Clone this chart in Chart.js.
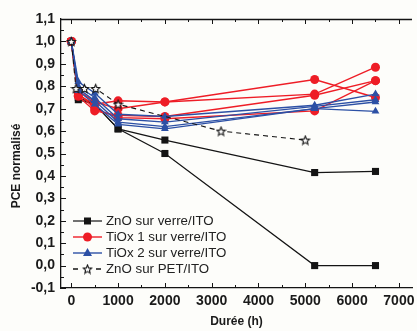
<!DOCTYPE html>
<html>
<head>
<meta charset="utf-8">
<script src="https://cdn.jsdelivr.net/npm/chart.js@4.4.0/dist/chart.umd.min.js"></script>
<style>
  html, body { margin: 0; padding: 0; background: #fdfdfa; }
  #wrap { width: 417px; height: 331px; position: relative; }
</style>
</head>
<body>
<div id="wrap"><canvas id="pceChart"></canvas></div>
<script>
// durée (h) des mesures
const hours = [0, 150, 500, 1000, 2000, 5200, 6500];
const petHours = [0, 100, 280, 520, 1000, 3200, 5000];

// PCE normalisé
const znoVerre1 = [1.0, 0.74, 0.72, 0.61, 0.56, 0.415, 0.42];
const znoVerre2 = [1.0, 0.75, 0.72, 0.61, 0.50, 0.0, 0.0];
const tiox1a = [1.0, 0.76, 0.72, 0.735, 0.73, 0.83, 0.75];
const tiox1b = [1.0, 0.78, 0.73, 0.70, 0.73, 0.765, 0.885];
const tiox1c = [1.0, 0.755, 0.69, 0.67, 0.665, 0.76, 0.825];
const tiox1d = [1.0, 0.77, 0.70, 0.66, 0.655, 0.69, 0.825];
const tiox2a = [1.0, 0.82, 0.77, 0.675, 0.665, 0.715, 0.765];
const tiox2b = [1.0, 0.80, 0.75, 0.655, 0.64, 0.71, 0.74];
const tiox2c = [1.0, 0.79, 0.735, 0.64, 0.62, 0.70, 0.73];
const tiox2d = [1.0, 0.78, 0.72, 0.63, 0.61, 0.70, 0.688];
const znoPet = [1.0, 0.79, 0.79, 0.79, 0.72, 0.60, 0.56];

const xTicks = [0, 1000, 2000, 3000, 4000, 5000, 6000, 7000];
const yTicks = [-0.1, 0.0, 0.1, 0.2, 0.3, 0.4, 0.5, 0.6, 0.7, 0.8, 0.9, 1.0, 1.1];

const legendNames = ['ZnO sur verre/ITO', 'TiOx 1 sur verre/ITO', 'TiOx 2 sur verre/ITO', 'ZnO sur PET/ITO'];

const BLACK = '#141414';
const RED = '#ee1d26';
const BLUE = '#2c50a5';

function starImage(size) {
  const c = document.createElement('canvas');
  c.width = size; c.height = size;
  const g = c.getContext('2d');
  const cx = size / 2, cy = size / 2 + 0.5, R = size / 2 - 1, r = R * 0.45;
  g.beginPath();
  for (let i = 0; i < 10; i++) {
    const a = -Math.PI / 2 + i * Math.PI / 5;
    const rr = i % 2 ? r : R;
    g.lineTo(cx + rr * Math.cos(a), cy + rr * Math.sin(a));
  }
  g.closePath();
  g.fillStyle = '#fff';
  g.fill();
  g.strokeStyle = BLACK;
  g.lineWidth = 1.1;
  g.stroke();
  return c;
}
const star = starImage(11);

function pts(xs, ys) {
  return xs.map((x, i) => ({ x: x, y: ys[i] }));
}

function series(label, ys, color, style, order, xs) {
  return {
    label: label,
    data: pts(xs || hours, ys),
    borderColor: color,
    backgroundColor: color,
    borderWidth: color === BLACK ? 1.2 : 1.4,
    pointStyle: style,
    pointRadius: style === 'rect' ? 5 : 4.5,
    pointBorderWidth: 0,
    tension: 0,
    order: order
  };
}

const datasets = [
  series(legendNames[0], znoVerre1, BLACK, 'rect', 3),
  series(legendNames[0], znoVerre2, BLACK, 'rect', 3),
  series(legendNames[1], tiox1a, RED, 'circle', 2),
  series(legendNames[1], tiox1b, RED, 'circle', 2),
  series(legendNames[1], tiox1c, RED, 'circle', 2),
  series(legendNames[1], tiox1d, RED, 'circle', 2),
  series(legendNames[2], tiox2a, BLUE, 'triangle', 1),
  series(legendNames[2], tiox2b, BLUE, 'triangle', 1),
  series(legendNames[2], tiox2c, BLUE, 'triangle', 1),
  series(legendNames[2], tiox2d, BLUE, 'triangle', 1)
];
const pet = series(legendNames[3], znoPet, BLACK, star, 0, petHours);
pet.borderDash = [5, 4];
pet.borderWidth = 1.1;
datasets.push(pet);

const FONT = "'Liberation Sans', Arial, sans-serif";

// cadre du haut, graduations intérieures, titres d'axes, légende
const frame = {
  id: 'frame',
  afterDraw(chart) {
    const ctx = chart.ctx;
    const a = chart.chartArea;
    const x = chart.scales.x, y = chart.scales.y;
    ctx.save();
    ctx.strokeStyle = BLACK;
    ctx.lineWidth = 1.3;
    ctx.beginPath();
    ctx.moveTo(a.left, a.top + 0.5);
    ctx.lineTo(a.right, a.top + 0.5);
    ctx.stroke();

    ctx.lineWidth = 1;
    ctx.beginPath();
    for (let i = 0; i <= 14; i++) {
      const px = Math.round(x.getPixelForValue(i * 500)) + 0.5;
      const len = i % 2 === 0 ? 5 : 3;
      ctx.moveTo(px, a.bottom); ctx.lineTo(px, a.bottom - len);
      ctx.moveTo(px, a.top); ctx.lineTo(px, a.top + len);
    }
    for (let i = -2; i <= 22; i++) {
      const py = Math.round(y.getPixelForValue(i * 0.05)) + 0.5;
      const len = i % 2 === 0 ? 5 : 3;
      ctx.moveTo(a.left, py); ctx.lineTo(a.left + len, py);
    }
    ctx.stroke();

    // titres
    ctx.fillStyle = '#1a1a1a';
    ctx.font = 'bold 12px ' + FONT;
    ctx.textAlign = 'center';
    ctx.textBaseline = 'middle';
    ctx.fillText('Durée (h)', (a.left + a.right) / 2, 322);
    ctx.save();
    ctx.translate(17, 166);
    ctx.rotate(-Math.PI / 2);
    ctx.fillText('PCE normalisé', 0, 0);
    ctx.restore();

    // légende
    const rows = [221, 237, 253, 269];
    const cols = [BLACK, RED, BLUE, BLACK];
    ctx.font = '13.3px ' + FONT;
    ctx.textAlign = 'left';
    rows.forEach((ry, i) => {
      ctx.strokeStyle = cols[i];
      ctx.lineWidth = i === 0 ? 1.2 : 1.4;
      ctx.beginPath();
      if (i === 3) {
        ctx.moveTo(73, ry); ctx.lineTo(78, ry);
        ctx.moveTo(96, ry); ctx.lineTo(101, ry);
      } else {
        ctx.moveTo(73, ry); ctx.lineTo(102, ry);
      }
      ctx.stroke();
      ctx.fillStyle = cols[i];
      const mx = 87.5;
      if (i === 0) {
        ctx.fillRect(mx - 3.5, ry - 3.5, 7, 7);
      } else if (i === 1) {
        ctx.beginPath(); ctx.arc(mx, ry, 4.5, 0, Math.PI * 2); ctx.fill();
      } else if (i === 2) {
        ctx.beginPath();
        ctx.moveTo(mx, ry - 5); ctx.lineTo(mx + 4.5, ry + 3); ctx.lineTo(mx - 4.5, ry + 3);
        ctx.closePath(); ctx.fill();
      } else {
        ctx.drawImage(star, mx - 5.5, ry - 5.5);
      }
      ctx.fillStyle = '#222';
      ctx.fillText(legendNames[i], 106, ry + 0.5);
    });
    ctx.restore();
  }
};

new Chart(document.getElementById('pceChart'), {
  type: 'line',
  data: { datasets: datasets },
  options: {
    responsive: true,
    maintainAspectRatio: false,
    animation: false,
    layout: { padding: { top: 19, right: 0, left: 0, bottom: 0 } },
    plugins: {
      legend: { display: false },
      tooltip: { enabled: false }
    },
    scales: {
      x: {
        type: 'linear',
        min: -220,
        max: 7280,
        afterBuildTicks: (s) => { s.ticks = xTicks.map(v => ({ value: v })); },
        afterFit: (s) => { s.height = 43; s.paddingLeft = 0; s.paddingRight = 0; },
        grid: { display: true, drawOnChartArea: false, drawTicks: false },
        border: { display: true, color: BLACK, width: 1.3 },
        ticks: {
          padding: 5,
          maxRotation: 0,
          autoSkip: false,
          color: '#1a1a1a',
          font: { family: FONT, size: 14, weight: 'bold' },
          callback: (v) => String(v)
        }
      },
      y: {
        min: -0.1,
        max: 1.1,
        afterBuildTicks: (s) => { s.ticks = yTicks.map(v => ({ value: v })); },
        afterFit: (s) => { s.width = 61; s.paddingTop = 0; s.paddingBottom = 0; },
        grid: { display: true, drawOnChartArea: false, drawTicks: false },
        border: { display: true, color: BLACK, width: 1.3 },
        ticks: {
          padding: 6,
          autoSkip: false,
          color: '#1a1a1a',
          font: { family: FONT, size: 14, weight: 'bold' },
          callback: (v) => v.toFixed(1).replace('.', ',')
        }
      }
    }
  },
  plugins: [frame]
});
</script>
</body>
</html>
